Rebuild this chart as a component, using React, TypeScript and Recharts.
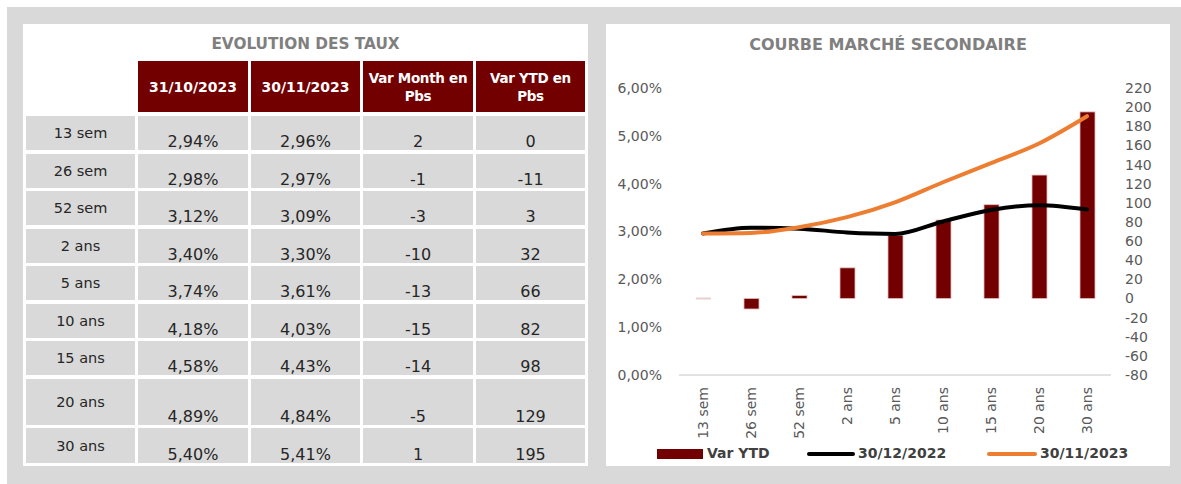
import React from 'react';
import { ComposedChart, Bar, Line, XAxis, YAxis } from 'recharts';

// données du tableau
const tenors = ['13 sem', '26 sem', '52 sem', '2 ans', '5 ans', '10 ans', '15 ans', '20 ans', '30 ans'];
const taux3110 = [2.94, 2.98, 3.12, 3.4, 3.74, 4.18, 4.58, 4.89, 5.4];
const taux3011 = [2.96, 2.97, 3.09, 3.3, 3.61, 4.03, 4.43, 4.84, 5.41];
const varMonth = [2, -1, -3, -10, -13, -15, -14, -5, 1];
const varYtd = [0, -11, 3, 32, 66, 82, 98, 129, 195];
// courbe fin d'année
const taux3012 = [2.96, 3.08, 3.06, 2.98, 2.95, 3.21, 3.45, 3.55, 3.46];

const headers = ['31/10/2023', '30/11/2023', 'Var Month en Pbs', 'Var YTD en Pbs'];
const leftTicks = [0, 1, 2, 3, 4, 5, 6];
const rightTicks = [-80, -60, -40, -20, 0, 20, 40, 60, 80, 100, 120, 140, 160, 180, 200, 220];

const RED = '#720000';
const ORANGE = '#ed7d31';
const FONT = '"DejaVu Sans", Verdana, sans-serif';

const pct = (v: number) => v.toFixed(2).replace('.', ',') + '%';

const chartData = tenors.map((t, i) => ({
    tenor: t,
    ytd: varYtd[i],
    dec: taux3012[i],
    nov: taux3011[i],
}));

// colonnes / lignes du tableau
const colX = [3, 115, 228, 340, 453];
const colW = [109, 110, 109, 110, 109];
const rowH = [34, 34, 34, 34, 34, 34, 34, 46, 35];

function BarShape(props: any) {
    const { x, y, width, height } = props;
    if (!height || Math.abs(height) < 1) {
        return <rect x={x} y={y - 1} width={width} height={2} fill="#e8d0d0" />;
    }
    const yy = height < 0 ? y + height : y;
    return (
        <rect x={x} y={yy} width={width} height={Math.abs(height)} fill={RED} stroke="#e2bcbc" strokeWidth={0.8} />
    );
}

function XTick(props: any) {
    const { x, y, payload } = props;
    return (
        <text
            transform={`translate(${x},${y}) rotate(-90)`}
            textAnchor="end"
            dominantBaseline="central"
            fill="#595959"
            fontSize={14}
            fontFamily={FONT}
        >
            {payload.value}
        </text>
    );
}

function Table() {
    let top = 116 - 24;
    const rows = tenors.map((t, i) => {
        const cells = [t, pct(taux3110[i]), pct(taux3011[i]), String(varMonth[i]), String(varYtd[i])];
        const h = rowH[i];
        const r = cells.map((c, j) => (
            <div
                key={j}
                style={{
                    position: 'absolute',
                    left: colX[j],
                    top,
                    width: colW[j],
                    height: h,
                    background: '#d9d9d9',
                    display: 'flex',
                    justifyContent: 'center',
                    alignItems: j === 0 ? 'center' : 'flex-end',
                    fontSize: j === 0 ? 14.5 : 16,
                    lineHeight: j === 0 ? '18px' : '16px',
                    color: '#262626',
                    boxSizing: 'border-box',
                }}
            >
                {c}
            </div>
        ));
        top += h + 3.5;
        return <React.Fragment key={t}>{r}</React.Fragment>;
    });

    return (
        <div style={{ position: 'absolute', left: 23, top: 24, width: 565, height: 442, background: '#fff', fontFamily: FONT }}>
            <div style={{ position: 'absolute', left: 0, top: 11, width: 565, textAlign: 'center', fontSize: 15.3, fontWeight: 'bold', color: '#7f7f7f' }}>
                EVOLUTION DES TAUX
            </div>
            {headers.map((h, j) => (
                <div
                    key={h}
                    style={{
                        position: 'absolute',
                        left: colX[j + 1],
                        top: 37,
                        width: colW[j + 1],
                        height: 51,
                        background: RED,
                        color: '#fff',
                        fontWeight: 'bold',
                        fontSize: h.startsWith('Var') ? 13.5 : 14,
                        lineHeight: '18px',
                        display: 'flex',
                        alignItems: 'center',
                        justifyContent: 'center',
                        textAlign: 'center',
                        letterSpacing: h.startsWith('Var') ? -0.3 : 0,
                    }}
                >
                    {h.startsWith('Var') ? (
                        <span>
                            {h.replace(' Pbs', '')}
                            <br />
                            Pbs
                        </span>
                    ) : (
                        h
                    )}
                </div>
            ))}
            {rows}
        </div>
    );
}

function Chart() {
    const legendText: React.CSSProperties = {
        position: 'absolute',
        top: 420,
        fontSize: 14,
        fontWeight: 'bold',
        color: '#404040',
        lineHeight: '18px',
    };
    return (
        <div style={{ position: 'absolute', left: 606, top: 24, width: 564, height: 442, background: '#fff', fontFamily: FONT }}>
            <div style={{ position: 'absolute', left: 0, top: 11, width: 564, textAlign: 'center', fontSize: 16, fontWeight: 'bold', color: '#7f7f7f' }}>
                COURBE MARCHÉ SECONDAIRE
            </div>
            <ComposedChart
                width={564}
                height={442}
                data={chartData}
                margin={{ top: 64, right: 14, left: 0, bottom: 21 }}
                style={{ position: 'absolute', left: 0, top: 0 }}
            >
                <XAxis
                    dataKey="tenor"
                    height={70}
                    interval={0}
                    tickLine={false}
                    tickSize={0}
                    tickMargin={12}
                    axisLine={{ stroke: '#d9d9d9', strokeWidth: 1.5 }}
                    tick={<XTick />}
                />
                <YAxis
                    yAxisId="left"
                    width={73}
                    domain={[0, 6]}
                    ticks={leftTicks}
                    tickFormatter={pct}
                    axisLine={false}
                    tickLine={false}
                    tickSize={0}
                    tickMargin={17}
                    tick={{ fill: '#595959', fontSize: 14, fontFamily: FONT }}
                />
                <YAxis
                    yAxisId="right"
                    orientation="right"
                    width={45}
                    domain={[-80, 220]}
                    ticks={rightTicks}
                    interval={0}
                    axisLine={false}
                    tickLine={false}
                    tickSize={0}
                    tickMargin={14}
                    tick={{ fill: '#595959', fontSize: 14, fontFamily: FONT }}
                />
                <Bar yAxisId="right" dataKey="ytd" name="Var YTD" barSize={15} shape={<BarShape />} isAnimationActive={false} />
                <Line
                    yAxisId="left"
                    type="monotone"
                    dataKey="dec"
                    name="30/12/2022"
                    stroke="#000"
                    strokeWidth={4}
                    strokeLinecap="round"
                    dot={false}
                    isAnimationActive={false}
                />
                <Line
                    yAxisId="left"
                    type="monotone"
                    dataKey="nov"
                    name="30/11/2023"
                    stroke={ORANGE}
                    strokeWidth={4}
                    strokeLinecap="round"
                    dot={false}
                    isAnimationActive={false}
                />
            </ComposedChart>
            {/* légende */}
            <div style={{ position: 'absolute', left: 51, top: 425, width: 46, height: 10, background: RED }} />
            <div style={{ ...legendText, left: 101 }}>Var YTD</div>
            <div style={{ position: 'absolute', left: 201, top: 428, width: 48, height: 4, borderRadius: 2, background: '#000' }} />
            <div style={{ ...legendText, left: 252 }}>30/12/2022</div>
            <div style={{ position: 'absolute', left: 381, top: 428, width: 50, height: 4, borderRadius: 2, background: ORANGE }} />
            <div style={{ ...legendText, left: 434 }}>30/11/2023</div>
        </div>
    );
}

export default function App() {
    return (
        <div style={{ position: 'absolute', left: 0, top: 0, width: 1181, height: 484, background: '#fff', overflow: 'hidden' }}>
            <div style={{ position: 'absolute', left: 7, top: 7, width: 1174, height: 477, background: '#d9d9d9' }} />
            <Table />
            <Chart />
        </div>
    );
}
